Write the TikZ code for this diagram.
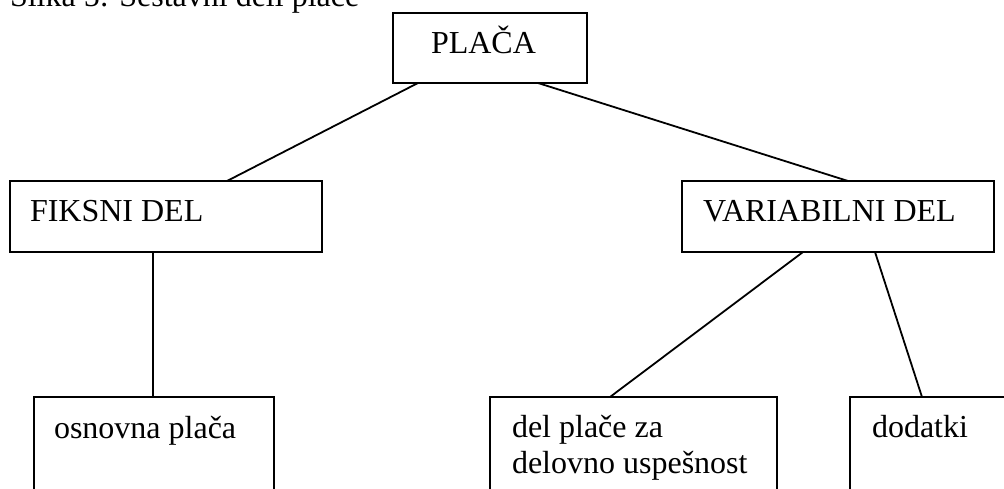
\documentclass[tikz,border=0pt]{standalone}
\usepackage{fontspec}
\setmainfont{Liberation Serif}
\usetikzlibrary{calc}
\begin{document}
\begin{tikzpicture}[x=1pt,y=-1pt,
  bx/.style={draw, line width=2pt, anchor=north west, inner sep=0pt, outer sep=0pt},
  lbl/.style={anchor=base west, inner sep=0pt, outer sep=0pt, font=\fontsize{32}{37}\selectfont},
  ln/.style={line width=1.8pt}]
\useasboundingbox (0,0) rectangle (1004,489);
\clip (0,0) rectangle (1004,489);
% caption
\node[lbl] (cap) at (10,7) {Slika 5: Sestavni deli plače};
% boxes
\node[bx, minimum width=194pt, minimum height=70pt] (placa) at (393,13) {};
\node[bx, minimum width=312pt, minimum height=71pt] (fiks) at (10,181) {};
\node[bx, minimum width=312pt, minimum height=71pt] (var) at (682,181) {};
\node[bx, minimum width=240pt, minimum height=130pt] (osn) at (34,397) {};
\node[bx, minimum width=287pt, minimum height=130pt] (usp) at (490,397) {};
\node[bx, minimum width=200pt, minimum height=130pt] (dod) at (850,397) {};
% texts
\node[lbl] (tplaca) at (431,54) {PLAČA};
\node[lbl] (tfiks) at (30,222) {FIKSNI DEL};
\node[lbl] (tvar) at (703,222) {VARIABILNI DEL};
\node[lbl] (tosn) at (54,438) {osnovna plača};
\node[lbl] (tusp1) at (512,437) {del plače za};
\node[lbl] (tusp2) at (512,473) {delovno uspešnost};
\node[lbl] (tdod) at (872,437) {dodatki};
% connectors
\draw[ln] ($(placa.south west)+(25,0)$) -- ($(fiks.north west)+(217,0)$);
\draw[ln] ($(placa.south west)+(145,0)$) -- ($(var.north west)+(166,0)$);
\draw[ln] ($(fiks.south west)+(143,0)$) -- ($(osn.north west)+(119,0)$);
\draw[ln] ($(var.south west)+(121,0)$) -- ($(usp.north west)+(120,0)$);
\draw[ln] ($(var.south west)+(193,0)$) -- ($(dod.north west)+(72,0)$);
\end{tikzpicture}
\end{document}
